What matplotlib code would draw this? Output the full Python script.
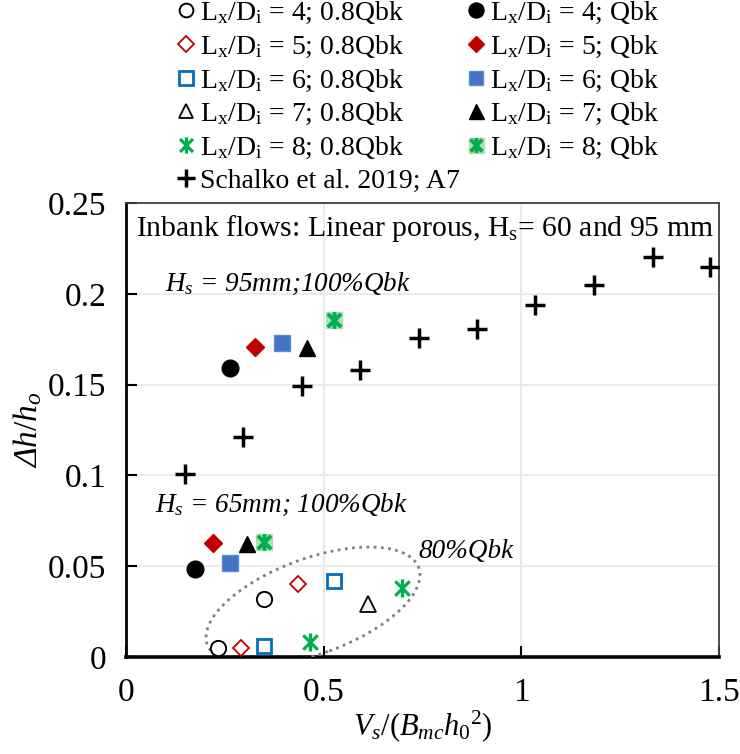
import matplotlib
matplotlib.use("Agg")
import matplotlib.pyplot as plt
from matplotlib.path import Path
from matplotlib.patches import Ellipse
from matplotlib.transforms import ScaledTranslation
from matplotlib.legend_handler import HandlerTuple

plt.rcParams['font.family'] = ['Liberation Serif', 'DejaVu Serif']
plt.rcParams['mathtext.fontset'] = 'custom'
plt.rcParams['mathtext.rm'] = 'Liberation Serif'
plt.rcParams['mathtext.it'] = 'Liberation Serif:italic'
plt.rcParams['mathtext.bf'] = 'Liberation Serif:bold'

# ---- data: Vs/(Bmc h0^2) and dh/h0 ----
# 80% of bankfull discharge
lx4_08_x = [0.232, 0.348]
lx4_08_y = [0.005, 0.032]
lx5_08_x = [0.291, 0.436]
lx5_08_y = [0.005, 0.040]
lx6_08_x = [0.349, 0.525]
lx6_08_y = [0.006, 0.042]
lx7_08_x = [0.611]
lx7_08_y = [0.029]
lx8_08_x = [0.466, 0.699]
lx8_08_y = [0.008, 0.038]
# bankfull discharge
lx4_q_x = [0.175, 0.262]
lx4_q_y = [0.0485, 0.159]
lx5_q_x = [0.219, 0.327]
lx5_q_y = [0.063, 0.1705]
lx6_q_x = [0.262, 0.394]
lx6_q_y = [0.0515, 0.173]
lx7_q_x = [0.306, 0.459]
lx7_q_y = [0.062, 0.170]
lx8_q_x = [0.348, 0.525]
lx8_q_y = [0.0635, 0.1855]
# Schalko et al. (2019), test A7
schalko_x = [0.148, 0.297, 0.444, 0.592, 0.740, 0.888, 1.035, 1.185, 1.332, 1.478]
schalko_y = [0.101, 0.121, 0.149, 0.158, 0.1755, 0.1805, 0.194, 0.205, 0.2205, 0.2145]

labels_08 = ["L$_\\mathrm{x}$/D$_\\mathrm{i}$ = %d; 0.8Qbk" % n for n in (4, 5, 6, 7, 8)]
labels_q = ["L$_\\mathrm{x}$/D$_\\mathrm{i}$ = %d; Qbk" % n for n in (4, 5, 6, 7, 8)]
label_schalko = "Schalko et al. 2019; A7"

x_ticks = [0, 0.5, 1, 1.5]
x_tick_labels = ["0", "0.5", "1", "1.5"]
y_ticks = [0, 0.05, 0.1, 0.15, 0.2, 0.25]
y_tick_labels = ["0", "0.05", "0.1", "0.15", "0.2", "0.25"]

RED = "#C00000"
BLUE_EDGE = "#0070C0"
BLUE_FILL = "#4472C4"
GREEN = "#00B050"
GREEN_BG = "#B5DDB0"

# asterisk marker: X with a vertical bar
ASTER = Path([(0, -1), (0, 1), (-0.8, -0.8), (0.8, 0.8), (-0.8, 0.8), (0.8, -0.8)],
             [Path.MOVETO, Path.LINETO] * 3)

fig = plt.figure(figsize=(7.40, 7.54), dpi=100)
ax = fig.add_axes([126 / 740, 1 - 657 / 754, (719 - 126) / 740, (657 - 203) / 754])

kw = dict(linestyle="none", zorder=5)
h4o, = ax.plot(lx4_08_x, lx4_08_y, marker="o", ms=11, mfc="white", mec="black", mew=1.4, **kw)
h5o, = ax.plot(lx5_08_x, lx5_08_y, marker="D", ms=8.5, mfc="white", mec=RED, mew=1.3, **kw)
h6o, = ax.plot(lx6_08_x, lx6_08_y, marker="s", ms=10.5, mfc="white", mec=BLUE_EDGE, mew=2, **kw)
h7o, = ax.plot(lx7_08_x, lx7_08_y, marker="^", ms=11.5, mfc="#EEF3EE", mec="black", mew=1.3, **kw)
h8o, = ax.plot(lx8_08_x, lx8_08_y, marker=ASTER, ms=13, mec=GREEN, mew=2.3, **kw)

h4q, = ax.plot(lx4_q_x, lx4_q_y, marker="o", ms=12, mfc="black", mec="black", **kw)
h5q, = ax.plot(lx5_q_x, lx5_q_y, marker="D", ms=9.5, mfc=RED, mec=RED, **kw)
h6q, = ax.plot(lx6_q_x, lx6_q_y, marker="s", ms=11.5, mfc=BLUE_FILL, mec="#5B8BD9", mew=1, **kw)
h7q, = ax.plot(lx7_q_x, lx7_q_y, marker="^", ms=12, mfc="black", mec="black", **kw)
h8qb, = ax.plot(lx8_q_x, lx8_q_y, marker="s", ms=12, mfc=GREEN_BG, mec=GREEN_BG, **kw)
h8q, = ax.plot(lx8_q_x, lx8_q_y, marker=ASTER, ms=12, mec=GREEN, mew=2.8, linestyle="none", zorder=6)

hs, = ax.plot(schalko_x, schalko_y, marker="+", ms=14, mec="black", mew=2.5, **kw)

# dotted envelope around the 80% Qbk runs
ell = Ellipse((0, 0), 2.25, 0.955, angle=20, fill=False, edgecolor="#7F7F7F",
              linestyle=(0, (1, 1.6)), linewidth=2.0, zorder=4,
              transform=fig.dpi_scale_trans + ScaledTranslation(0.473, 0.028, ax.transData))
ax.add_patch(ell)

ax.set_xlim(0, 1.5)
ax.set_ylim(0, 0.25)
ax.set_xticks(x_ticks)
ax.set_xticklabels(x_tick_labels)
ax.set_yticks(y_ticks)
ax.set_yticklabels(y_tick_labels)
ax.grid(True, color="#EBEBEB", linewidth=1.5, zorder=0)
ax.set_axisbelow(True)
ax.tick_params(axis="both", direction="in", length=8, width=1.5, labelsize=24, color="black")
ax.tick_params(axis="x", pad=15)
ax.tick_params(axis="y", pad=14)

for side in ("top", "right"):
    ax.spines[side].set_linewidth(1.3)
    ax.spines[side].set_color("#404040")
ax.spines["left"].set_linewidth(2.0)
ax.spines["bottom"].set_linewidth(2.6)

ax.set_xlabel(r"$\mathit{V_s/(B_{mc}h_0{}^2)}$", fontsize=22, labelpad=0)
ax.set_ylabel("Δ$\\mathit{h/h_o}$", fontsize=24, style="italic", labelpad=3)

ax.text(0.025, 0.236, "Inbank flows: Linear porous, H$_\\mathrm{s}$= 60 and 95 mm",
        fontsize=21.3, va="center", ha="left", transform=ax.transData)
ax.text(0.099, 0.2055, r"$\mathit{H_s}$ = 95mm;100%Qbk", fontsize=19.5,
        style="italic", va="center", ha="left")
ax.text(0.073, 0.0836, r"$\mathit{H_s}$ = 65mm; 100%Qbk", fontsize=19.5,
        style="italic", va="center", ha="left")
ax.text(0.739, 0.058, "80%Qbk", fontsize=19.5, style="italic", va="center", ha="left")

handles = [h4o, h5o, h6o, h7o, h8o, hs, h4q, h5q, h6q, h7q, (h8qb, h8q)]
labels = labels_08 + [label_schalko] + labels_q
fig.legend(handles, labels, ncol=2, loc="upper left", bbox_to_anchor=(176 / 740, 1.0),
           frameon=False, fontsize=20, handlelength=0.7, handletextpad=0.15,
           columnspacing=0.25, labelspacing=0.27, borderaxespad=0, borderpad=0,
           markerscale=0.9,
           handler_map={tuple: HandlerTuple(ndivide=1, pad=0)})

fig.savefig("out.png", dpi=100)
